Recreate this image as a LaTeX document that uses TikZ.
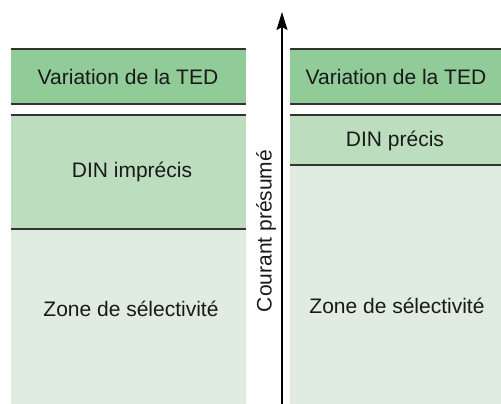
\documentclass[tikz,border=0pt]{standalone}
\usepackage{fontspec}
\setmainfont{Liberation Sans}
\usepackage{xcolor}
\usepackage{tikz}
\tikzset{>=latex}
\usetikzlibrary{arrows.meta}
\definecolor{tedgreen}{HTML}{90CB98}
\definecolor{dingreen}{HTML}{BDDEBE}
\definecolor{zonegreen}{HTML}{E0ECE0}

\begin{document}
\begin{tikzpicture}[x=1pt, y=-1pt,
  sep/.style={draw=black!80, line width=1.3pt},
  lab/.style={font=\fontsize{21}{25}\selectfont, text=black!90}]

 \useasboundingbox (0,0) rectangle (501,404);

 % Bands Left
 \fill[tedgreen] (11,49) rectangle (246,104);
 \fill[dingreen] (11,115) rectangle (246,229);
 \fill[zonegreen] (11,229) rectangle (246,404);

 % Bands Right
 \fill[tedgreen] (290,49) rectangle (501,104);
 \fill[dingreen] (290,115) rectangle (501,165);
 \fill[zonegreen] (290,165) rectangle (501,404);

% Lines
 \foreach \x/\w in {11/246, 290/501}{
    \draw[sep] (\x,49) -- (\w,49);
    \draw[sep] (\x,104) -- (\w,104);
    \draw[sep] (\x,115) -- (\w,115);
 }
 \draw[sep] (11,229) -- (246,229);
 \draw[sep] (290,165) -- (501,165);

 % Labels
 \node[lab] (tedL) at (128,77) {Variation de la TED};
 \node[lab] (dinL) at (132,172) {DIN imprécis};
 \node[lab] (zoneL) at (131,309) {Zone de sélectivité};

 \node[lab] (tedR) at (396,77) {Variation de la TED};
 \node[lab] (dinR) at (395,141) {DIN précis};
 \node[lab] (zoneR) at (397,306) {Zone de sélectivité};

 % Axis
 \coordinate (axbot) at (282,404);
 \coordinate (axtop) at (282,12);
 \draw[line width=1.6pt, -{Stealth[length=18pt, width=11pt, inset=3pt]}] (axbot) -- (axtop);
 \node[lab, rotate=90] (courant) at (266,231) {Courant présumé};

\end{tikzpicture}
\end{document}
